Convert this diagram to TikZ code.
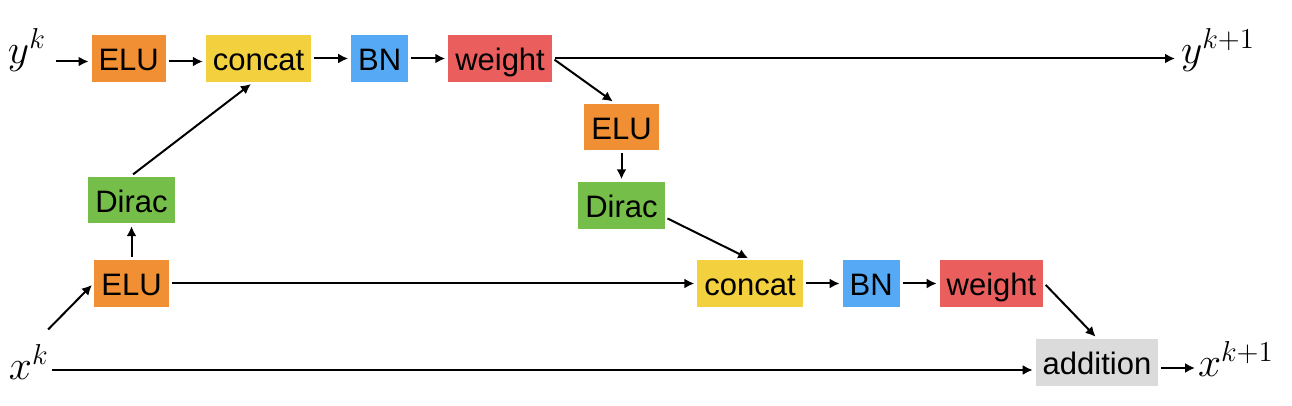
\documentclass[tikz,border=0pt]{standalone}
\usepackage{fontspec}
\usepackage{xcolor}
\usepackage{tikz}
\usetikzlibrary{arrows.meta, positioning, calc}

\newfontfamily\blockfont{Liberation Sans}

\definecolor{eluorange}{HTML}{F08F33}
\definecolor{catyellow}{HTML}{F3D03E}
\definecolor{bnblue}{HTML}{56A9F4}
\definecolor{weightred}{HTML}{EA5F5E}
\definecolor{diracgreen}{HTML}{74BE49}
\definecolor{addgrey}{HTML}{DADBDA}

\begin{document}
\begin{tikzpicture}
	[x=0.5pt, y=-0.5pt, node distance=19pt, line width=1pt,
	>={Latex[length=5pt,width=5pt]},
	block/.style={rectangle, text height=17.8pt, text depth=5.5pt, inner xsep=3.5pt, inner ysep=0pt, font=\blockfont\fontsize{15.5}{18}\selectfont},
	elu/.style={block, fill=eluorange},
	concat/.style={block, fill=catyellow},
	bn/.style={block, fill=bnblue},
	weight/.style={block, fill=weightred},
	dirac/.style={block, fill=diracgreen},
	addn/.style={block, fill=addgrey},
	var/.style={inner sep=0pt, font=\fontsize{20}{24}\selectfont},
	flow/.style={->, shorten >=1pt, shorten <=1pt},
	low/.style={transform canvas={yshift=-1.5pt}}
	]
	\useasboundingbox (0,0) rectangle (1292,406);
	
	% Nodes: y branch
	\node[var, anchor=base west] (yk) at (7,64) {$y^k$};
	\node[elu] (elu1) at (128.7,58.5) {ELU};
	\node[concat, right=of elu1] (cat1) {concat};
	\node[bn, right=of cat1] (bn1) {BN};
	\node[weight, right=of bn1] (wt1) {weight};
	\node[var, anchor=base west] (yk1) at (1180,64) {$y^{k+1}$};
	
	% Nodes: middle
	\node[elu] (elu2) at (621.5,127) {ELU};
	\node[dirac, below=15pt of elu2] (dirac2) {Dirac};
	\node[concat] (cat2) at (750,283.5) {concat};
	\node[bn, right=of cat2] (bn2) {BN};
	\node[weight, right=of bn2] (wt2) {weight};
	\node[addn] (add) at (1097,362.5) {addition};
	\node[var, anchor=base west] (xk1) at (1197,377) {$x^{k+1}$};
	
	% Nodes: x branch
	\node[elu] (elu3) at (131.5,283.5) {ELU};
	\node[dirac, above=17.5pt of elu3] (dirac1) {Dirac};
	\node[var, anchor=base west] (xk) at (8,380) {$x^k$};
	
	\coordinate (addin) at ([yshift=-3.75pt]add.west);
	\coordinate (addout) at ([yshift=-2.75pt]add.east);
	
	% Arrows
	\draw[flow, low, shorten <=4.5pt] (yk.east |- elu1.west) -- (elu1.west);
	\draw[flow, low] (elu1) -- (cat1);
	\draw[flow] (cat1) -- (bn1);
	\draw[flow] (bn1) -- (wt1);
	\draw[flow, shorten >=2.5pt] (wt1.east) -- (wt1.east -| yk1.west);
	\draw[flow] (wt1.east) -- ([xshift=-3.5pt]elu2.north);
	\draw[flow] (elu2.south) -- (elu2.south |- dirac2.north);
	\draw[flow] ([yshift=-6pt]dirac2.east) -- (cat2.north);
	\draw[flow] (cat2) -- (bn2);
	\draw[flow] (bn2) -- (wt2);
	\draw[flow] (wt2.east) -- (add.north);
	\draw[flow] (xk.east |- addin) -- (addin);
	\draw[flow] (addout) -- (addout -| xk1.west);
	\draw[flow] ([shift={(-1.5pt,6.5pt)}]xk.north east) -- (elu3.west);
	\draw[flow] (elu3) -- (dirac1);
	\draw[flow] (dirac1.north) -- ([xshift=-3pt]cat1.south);
	\draw[flow] (elu3) -- (cat2);
\end{tikzpicture}
\end{document}
